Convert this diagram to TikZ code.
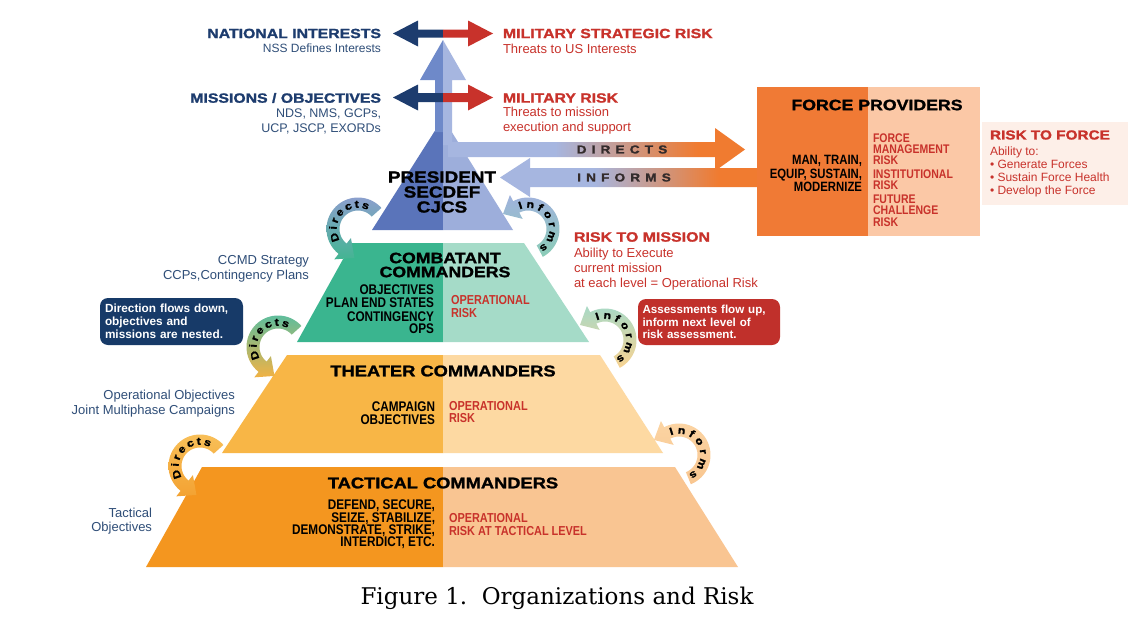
\documentclass[tikz,border=0pt]{standalone}
\usepackage{fontspec}
\setmainfont{Liberation Sans}
\newfontfamily\blk[FakeStretch=1.18,BoldFeatures={FakeBold=1.5}]{Liberation Sans}
\newfontfamily\nrw[FakeStretch=0.84]{Liberation Sans}
\newfontfamily\capfont{DejaVu Serif}
\usetikzlibrary{decorations.text}
\definecolor{navy}{HTML}{1D3C6E}
\definecolor{navytxt}{HTML}{2F4E78}
\definecolor{redA}{HTML}{C8322B}
\definecolor{redbox}{HTML}{C0302B}
\definecolor{navybox}{HTML}{173A68}
\definecolor{blueL}{HTML}{5A74BA}
\definecolor{blueR}{HTML}{9DAEDB}
\definecolor{arrL}{HTML}{6E89C9}
\definecolor{arrR}{HTML}{A6B6E0}
\definecolor{grnL}{HTML}{3AB58F}
\definecolor{grnR}{HTML}{A5DBC8}
\definecolor{thL}{HTML}{F8B646}
\definecolor{thR}{HTML}{FDD9A2}
\definecolor{taL}{HTML}{F4961F}
\definecolor{taR}{HTML}{F9C592}
\definecolor{fpL}{HTML}{F07A35}
\definecolor{fpR}{HTML}{FBC8A6}
\definecolor{rtfbg}{HTML}{FDEFE8}
\definecolor{orA}{HTML}{F07B30}
\definecolor{bandtxt}{HTML}{332B2B}
\definecolor{dA}{HTML}{8B9FCD}\definecolor{dB}{HTML}{43B592}
\definecolor{dC}{HTML}{5FBD9C}\definecolor{dD}{HTML}{F1B244}
\definecolor{dE}{HTML}{F8BF58}\definecolor{dF}{HTML}{F3A232}
\definecolor{iA}{HTML}{A0B2DD}\definecolor{iB}{HTML}{8BCDB7}
\definecolor{iC}{HTML}{A8D9C6}\definecolor{iD}{HTML}{F8D391}
\definecolor{iE}{HTML}{FBD4A3}\definecolor{iF}{HTML}{F9C690}
\pgfdeclarehorizontalshading{bandsh}{100bp}{color(0bp)=(arrR); color(43bp)=(arrR); color(67bp)=(orA); color(100bp)=(orA)}
\newcommand\HV[2]{\blk\bfseries\fontsize{#1}{#2}\selectfont}
\newcommand\NR[2]{\nrw\bfseries\fontsize{#1}{#2}\selectfont}
\newcommand\RG[2]{\fontsize{#1}{#2}\selectfont}
\newcommand\BD[2]{\bfseries\fontsize{#1}{#2}\selectfont}
\newcommand\arcfont{\blk\bfseries\fontsize{10.5}{10.5}\selectfont}
% curved arrow: cx cy tailangle headbaseangle topcolor bottomcolor
\newcommand\curvarr[6]{%
 \path[top color=#5, bottom color=#6]
  plot[domain=#3:#4,samples=40] ({#1+31.5*cos(\x)},{#2+31.5*sin(\x)})
  -- ({#1+38.5*cos(#4)},{#2+38.5*sin(#4)})
  -- ({#1+25*cos(#4)+15*sin(#4)},{#2+25*sin(#4)-15*cos(#4)})
  -- ({#1+11.5*cos(#4)},{#2+11.5*sin(#4)})
  -- plot[domain=#4:#3,samples=40] ({#1+18.5*cos(\x)},{#2+18.5*sin(\x)})
  -- cycle;}
\newcommand\arctext[5]{%
 \path[decorate,decoration={text along path,text={|\arcfont|#5},text align={fit to path},raise=-3.7pt}]
  plot[domain=#3:#4,samples=60] ({#1+25*cos(\x)},{#2+25*sin(\x)});}
\begin{document}
\begin{tikzpicture}[x=1pt,y=-1pt,lbl/.style={inner sep=0pt,outer sep=0pt},
  callout/.style={rounded corners=8pt,text=white,align=left,inner ysep=0pt}]
\useasboundingbox (0,0) rectangle (1138,621);
\fill[white] (0,0) rectangle (1138,621);
% pyramid
\fill[blueL] (443,118) -- (372,230) -- (443,230) -- cycle;
\fill[blueR] (443,118) -- (513,230) -- (443,230) -- cycle;
\fill[grnL] (352,243) -- (443,243) -- (443,342) -- (297,342) -- cycle;
\fill[grnR] (443,243) -- (524,243) -- (589,342) -- (443,342) -- cycle;
\fill[thL] (287,355) -- (443,355) -- (443,453) -- (222,453) -- cycle;
\fill[thR] (443,355) -- (600,355) -- (663,453) -- (443,453) -- cycle;
\fill[taL] (202,467) -- (443,467) -- (443,567) -- (146,567) -- cycle;
\fill[taR] (443,467) -- (675,467) -- (738,567) -- (443,567) -- cycle;
% vertical arrow
\fill[arrL] (443,40) -- (420,80) -- (435,80) -- (435,132) -- (443,132) -- cycle;
\fill[arrR] (443,40) -- (466,80) -- (452,80) -- (452,145) -- (443,145) -- cycle;
% directs / informs bands
\path[shading=bandsh] (448,142) -- (715,142) -- (715,128) -- (745,149.5) -- (715,171) -- (715,157) -- (448,157) -- cycle;
\path[shading=bandsh] (500,177.5) -- (530,158) -- (530,168) -- (760,168) -- (760,187) -- (530,187) -- (530,197) -- cycle;
% double arrows
\fill[navy] (393,33.5) -- (418,20.5) -- (418,29.5) -- (443,29.5) -- (443,37.5) -- (418,37.5) -- (418,46.5) -- cycle;
\fill[redA] (493,33.5) -- (468,20.5) -- (468,29.5) -- (443,29.5) -- (443,37.5) -- (468,37.5) -- (468,46.5) -- cycle;
\fill[navy] (393,97.5) -- (418,84.5) -- (418,93) -- (443,93) -- (443,102) -- (418,102) -- (418,110.5) -- cycle;
\fill[redA] (493,97.5) -- (468,84.5) -- (468,93) -- (443,93) -- (443,102) -- (468,102) -- (468,110.5) -- cycle;
% force provider boxes
\fill[fpL] (757,87) rectangle (868,236);
\fill[fpR] (868,87) rectangle (980,236);
\fill[rtfbg] (982,122) rectangle (1128,205);
% curved arrows
\curvarr{358}{229}{318}{128}{dA}{dB}
\curvarr{278}{347}{318}{128}{dC}{dD}
\curvarr{200}{466}{318}{128}{dE}{dF}
\curvarr{528}{229}{62}{-118}{iA}{iB}
\curvarr{605}{340}{62}{-118}{iC}{iD}
\curvarr{679}{455}{68}{-118}{iE}{iF}
\arctext{358}{229}{150}{296}{Directs}
\arctext{278}{347}{150}{296}{Directs}
\arctext{200}{466}{150}{296}{Directs}
\arctext{528}{229}{-112}{58}{Informs}
\arctext{605}{340}{-112}{58}{Informs}
\arctext{679}{455}{-112}{62}{Informs}
% top texts
\node[lbl,anchor=east,text=navy,font=\HV{13.4}{14}] (ni) at (381,33.5) {NATIONAL INTERESTS};
\node[lbl,anchor=east,text=navytxt,font=\RG{12}{13}] (nss) at (381,48.5) {NSS Defines Interests};
\node[lbl,anchor=east,text=navy,font=\HV{13.4}{14}] (mo) at (381,98) {MISSIONS / OBJECTIVES};
\node[lbl,anchor=east,align=right,text=navytxt,font=\RG{12.5}{14.5}] (nds) at (381,121.5) {NDS, NMS, GCPs,\\UCP, JSCP, EXORDs};
\node[lbl,anchor=west,text=redA,font=\HV{13.4}{14}] (msr) at (503,33.5) {MILITARY STRATEGIC RISK};
\node[lbl,anchor=west,text=redA,font=\RG{13}{14}] (tus) at (503,48.5) {Threats to US Interests};
\node[lbl,anchor=west,text=redA,font=\HV{13.4}{14}] (mr) at (503,98) {MILITARY RISK};
\node[lbl,anchor=west,align=left,text=redA,font=\RG{13}{15}] (ttm) at (503,121) {Threats to mission\\execution and support};
\node[lbl,text=bandtxt,font=\HV{11.5}{12}\addfontfeature{LetterSpace=45}] (dir) at (622,149.5) {DIRECTS};
\node[lbl,text=bandtxt,font=\HV{11.5}{12}\addfontfeature{LetterSpace=45}] (inf) at (624,177.5) {INFORMS};
% pyramid texts
\node[lbl,align=center,font=\HV{16}{15}] (pres) at (442,192) {PRESIDENT\\SECDEF\\CJCS};
\node[lbl,align=center,font=\HV{15}{14}] (cc) at (445,265) {COMBATANT\\COMMANDERS};
\node[lbl,anchor=east,align=right,font=\NR{14}{12.7}] (cc1) at (434,296.5) {OBJECTIVES\\PLAN END STATES};
\node[lbl,anchor=east,align=right,font=\NR{14}{11.5}] (cc2) at (434,322.5) {CONTINGENCY\\OPS};
\node[lbl,anchor=west,align=left,text=redA,font=\NR{13}{12.5}] (ccr) at (451,306.5) {OPERATIONAL\\RISK};
\node[lbl,font=\HV{15.5}{15}] (thc) at (443,371) {THEATER COMMANDERS};
\node[lbl,anchor=east,align=right,font=\NR{14}{13}] (thl) at (435,413.5) {CAMPAIGN\\OBJECTIVES};
\node[lbl,anchor=west,align=left,text=redA,font=\NR{13}{12}] (thr) at (449,412) {OPERATIONAL\\RISK};
\node[lbl,font=\HV{15.5}{15}] (tac) at (443,483) {TACTICAL COMMANDERS};
\node[lbl,anchor=east,align=right,font=\NR{14}{12.3}] (tal) at (435,524.5) {DEFEND, SECURE,\\SEIZE, STABILIZE,\\DEMONSTRATE, STRIKE,\\INTERDICT, ETC.};
\node[lbl,anchor=west,align=left,text=redA,font=\NR{13}{13}] (tar) at (449,524.5) {OPERATIONAL\\RISK AT TACTICAL LEVEL};
% force providers
\node[lbl,font=\HV{15}{15}] (fp) at (877,105) {FORCE PROVIDERS};
\node[lbl,anchor=east,align=right,font=\NR{13.5}{13.5}] (mtr) at (862,173.5) {MAN, TRAIN,\\EQUIP, SUSTAIN,\\MODERNIZE};
\node[lbl,anchor=west,align=left,text=redA,font=\NR{12.5}{11.3}] (fmr) at (873,149) {FORCE\\MANAGEMENT\\RISK};
\node[lbl,anchor=west,align=left,text=redA,font=\NR{12.5}{11.3}] (ir) at (873,179.5) {INSTITUTIONAL\\RISK};
\node[lbl,anchor=west,align=left,text=redA,font=\NR{12.5}{11.5}] (fcr) at (873,210.5) {FUTURE\\CHALLENGE\\RISK};
\node[lbl,anchor=west,text=redA,font=\HV{13}{13}] (rtf) at (990,135) {RISK TO FORCE};
\node[lbl,anchor=west,text=redA,font=\RG{12}{13}] (abl) at (990,152) {Ability to:};
\node[lbl,anchor=west,align=left,text=redA,font=\RG{12}{13}] (bul) at (990,179) {• Generate Forces\\• Sustain Force Health\\• Develop the Force};
% risk to mission
\node[lbl,anchor=west,text=redA,font=\HV{13.5}{14}] (rtm) at (574,237) {RISK TO MISSION};
\node[lbl,anchor=west,align=left,text=redA,font=\RG{13}{15}] (rtmt) at (574,269) {Ability to Execute\\current mission\\at each level = Operational Risk};
% callouts
\node[callout,fill=navybox,font=\BD{11.8}{13},text width=133pt,inner xsep=5pt,minimum width=143pt,minimum height=47pt] (dbox) at (171.5,321.5) {Direction flows down,\\objectives and\\missions are nested.};
\node[callout,fill=redbox,font=\BD{11.6}{12.5},text width=133pt,inner xsep=4.5pt,minimum width=142pt,minimum height=46pt] (abox) at (709,322) {Assessments flow up,\\inform next level of\\risk assessment.};
% left side texts
\node[lbl,anchor=east,align=right,text=navytxt,font=\RG{13}{15}] (ccmd) at (309,269) {CCMD Strategy\\CCPs,Contingency Plans};
\node[lbl,anchor=east,align=right,text=navytxt,font=\RG{13}{15}] (opo) at (235,404) {Operational Objectives\\Joint Multiphase Campaigns};
\node[lbl,anchor=east,align=right,text=navytxt,font=\RG{13}{14}] (tao) at (152,521) {Tactical\\Objectives};
% caption
\node[lbl,font=\capfont\fontsize{23}{26}\selectfont] (cap) at (557,598) {Figure 1.\ \ Organizations and Risk};
\end{tikzpicture}
\end{document}
